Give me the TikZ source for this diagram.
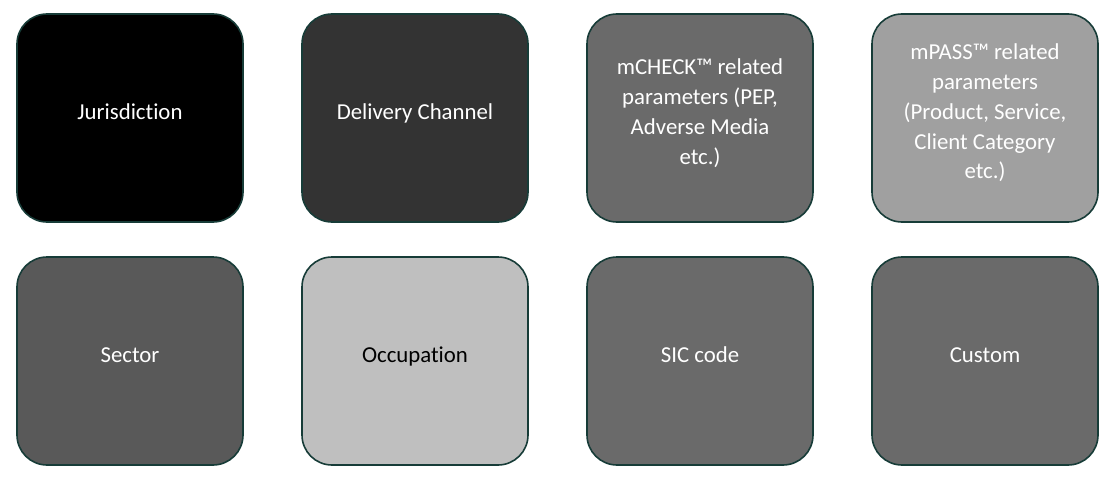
\documentclass[tikz,border=0pt]{standalone}
\usepackage{fontspec}
\setmainfont{Carlito}[Ligatures=NoCommon]
\definecolor{edge}{HTML}{173C38}
\definecolor{cA}{HTML}{000000}
\definecolor{cB}{HTML}{333333}
\definecolor{cC}{HTML}{6A6A6A}
\definecolor{cD}{HTML}{A0A0A0}
\definecolor{cE}{HTML}{595959}
\definecolor{cF}{HTML}{BFBFBF}
\begin{document}
\begin{tikzpicture}[x=1pt,y=-1pt,
  box/.style={draw=edge, line width=1.6pt, rounded corners=30pt, minimum width=226pt, minimum height=208pt, inner sep=0pt},
  txt/.style={align=center, font=\fontsize{22.8}{29.8}\selectfont, text=white, inner sep=0pt},
  one/.style={txt, text height=15pt, text depth=0pt}]
\useasboundingbox (0,0) rectangle (1114,484);
\node[box, fill=cA] (b1) at (130,118) {};
\node[box, fill=cB] (b2) at (415,118) {};
\node[box, fill=cC] (b3) at (700,118) {};
\node[box, fill=cD] (b4) at (985,118) {};
\node[box, fill=cE] (b5) at (130,361) {};
\node[box, fill=cF] (b6) at (415,361) {};
\node[box, fill=cC] (b7) at (700,361) {};
\node[box, fill=cC] (b8) at (985,361) {};
\node[one] (t1) at ([yshift=6pt]b1.center) {Jurisdiction};
\node[one] (t2) at ([yshift=6pt]b2.center) {Delivery Channel};
\node[txt] (t3) at ([yshift=5pt]b3.center) {mCHECK™ related\\parameters (PEP,\\Adverse Media\\etc.)};
\node[txt] (t4) at ([yshift=5pt]b4.center) {mPASS™ related\\parameters\\(Product, Service,\\Client Category\\etc.)};
\node[one] (t5) at ([yshift=6pt]b5.center) {Sector};
\node[one, text=black] (t6) at ([yshift=6pt]b6.center) {Occupation};
\node[one] (t7) at ([yshift=6pt]b7.center) {SIC code};
\node[one] (t8) at ([yshift=6pt]b8.center) {Custom};
\end{tikzpicture}
\end{document}
